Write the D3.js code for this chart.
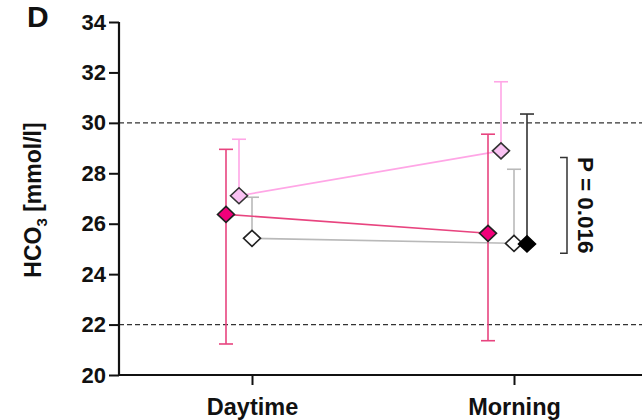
<!DOCTYPE html>
<html><head><meta charset="utf-8">
<script src="https://cdn.jsdelivr.net/npm/d3@7"></script>
<style>html,body{margin:0;padding:0;background:#fff}svg{display:block}text{font-family:"Liberation Sans",Arial,sans-serif;font-weight:bold;fill:#111}</style>
</head><body>
<script>
const categories = ["Daytime", "Morning"];
const seriesNames = ["darkPink", "lightPink", "open", "black"];
const yTicks = [20, 22, 24, 26, 28, 30, 32, 34];
const refLines = [22, 30];
const darkPinkMean = [26.37, 25.62];
const darkPinkUpper = [28.95, 29.55];
const darkPinkLower = [21.23, 21.36];
const lightPinkMean = [27.11, 28.89];
const lightPinkUpper = [29.35, 31.63];
const openMean = [25.42, 25.22];
const openUpper = [27.05, 28.16];
const blackMean = [null, 25.2];
const blackUpper = [null, 30.35];
const pBracket = [24.83, 28.63];
const pLabel = "P = 0.016";

(function () {
const W = 642, H = 420;
const svg = d3.select("body").append("svg").attr("width", W).attr("height", H);
const mLeft = 119, mRight = 642, mTop = 22, mBottom = 375;
const y = d3.scaleLinear().domain([20, 34]).range([mBottom, mTop]);
const x = d3.scalePoint().domain(categories).range([mLeft + 2, mRight + 3]).padding(0.5);
const off = d3.scalePoint().domain(seriesNames).range([-26, 13]);

const styles = {
  darkPink: {line: "#e8447f", fill: "#f2007a", stroke: "#222"},
  lightPink: {line: "#ffa6e6", fill: "#f9c2f2", stroke: "#333"},
  open: {line: "#b9b9b9", fill: "#ffffff", stroke: "#222"},
  black: {line: "#333333", fill: "#000000", stroke: "#000"}
};
const series = [
  {name: "open", mean: openMean, hi: openUpper, lo: null},
  {name: "lightPink", mean: lightPinkMean, hi: lightPinkUpper, lo: null},
  {name: "darkPink", mean: darkPinkMean, hi: darkPinkUpper, lo: darkPinkLower},
  {name: "black", mean: blackMean, hi: blackUpper, lo: null}
];

svg.selectAll(".ref").data(refLines).enter().append("line")
  .attr("x1", mLeft).attr("x2", mRight).attr("y1", d => y(d)).attr("y2", d => y(d))
  .attr("stroke", "#333").attr("stroke-width", 1.3).attr("stroke-dasharray", "5,3");

const px = (s, i) => x(categories[i]) + off(s.name);
const cap = 7;

series.forEach(s => {
  const st = styles[s.name];
  const g = svg.append("g");
  const pts = s.mean.map((m, i) => ({i, m})).filter(d => d.m != null);
  if (pts.length > 1) {
    g.append("path").attr("d", d3.line().x(d => px(s, d.i)).y(d => y(d.m))(pts))
      .attr("fill", "none").attr("stroke", st.line).attr("stroke-width", 1.6);
  }
  pts.forEach(d => {
    const cx = px(s, d.i);
    const hi = s.hi[d.i];
    const lo = s.lo ? s.lo[d.i] : d.m;
    g.append("line").attr("x1", cx).attr("x2", cx).attr("y1", y(hi)).attr("y2", y(lo))
      .attr("stroke", st.line).attr("stroke-width", 1.6);
    g.append("line").attr("x1", cx - cap).attr("x2", cx + cap).attr("y1", y(hi)).attr("y2", y(hi))
      .attr("stroke", st.line).attr("stroke-width", 1.6);
    if (s.lo) {
      g.append("line").attr("x1", cx - cap).attr("x2", cx + cap).attr("y1", y(lo)).attr("y2", y(lo))
        .attr("stroke", st.line).attr("stroke-width", 1.6);
    }
  });
  g.selectAll("path.m").data(pts).enter().append("path").attr("class", "m")
    .attr("d", d => {
      const cx = px(s, d.i), cy = y(d.m), hw = 8.5, hh = 8;
      return `M${cx},${cy - hh}L${cx + hw},${cy}L${cx},${cy + hh}L${cx - hw},${cy}Z`;
    })
    .attr("fill", st.fill).attr("stroke", st.stroke).attr("stroke-width", 1.6);
});

const yAxis = svg.append("g").attr("transform", `translate(${mLeft},0)`)
  .call(d3.axisLeft(y).tickValues(yTicks).tickSize(10).tickPadding(3).tickFormat(d3.format("d")));
yAxis.select(".domain").attr("d", `M0,${mTop}V${mBottom}`).attr("stroke", "#111").attr("stroke-width", 2.2);
yAxis.selectAll(".tick line").attr("stroke", "#111").attr("stroke-width", 2);
yAxis.selectAll(".tick text").attr("font-size", 22).attr("font-family", "Liberation Sans, Arial, sans-serif").attr("font-weight", "bold").attr("fill", "#111");

const xAxis = svg.append("g").attr("transform", `translate(0,${mBottom})`)
  .call(d3.axisBottom(x).tickSize(10).tickPadding(13));
xAxis.select(".domain").attr("d", `M${mLeft},0H${mRight}`).attr("stroke", "#111").attr("stroke-width", 2.2);
xAxis.selectAll(".tick line").attr("stroke", "#111").attr("stroke-width", 2);
xAxis.selectAll(".tick text").attr("font-size", 23.5).attr("font-family", "Liberation Sans, Arial, sans-serif").attr("font-weight", "bold").attr("fill", "#111");

const yl = svg.append("text").attr("transform", `translate(41,200) rotate(-90)`).attr("text-anchor", "middle")
  .attr("font-size", 23);
yl.append("tspan").text("HCO");
yl.append("tspan").text("3").attr("font-size", 15).attr("dy", 6);
yl.append("tspan").text(" [mmol/l]").attr("dy", -6);

svg.append("text").attr("x", 27).attr("y", 27).attr("font-size", 30).text("D");

const bx = 560, bw = 7;
svg.append("path")
  .attr("d", `M${bx},${y(pBracket[1])}H${bx + bw}V${y(pBracket[0])}H${bx}`)
  .attr("fill", "none").attr("stroke", "#333").attr("stroke-width", 1.5);
svg.append("text").attr("transform", `translate(578,${(y(pBracket[0]) + y(pBracket[1])) / 2}) rotate(90)`)
  .attr("text-anchor", "middle").attr("font-size", 22.5).text(pLabel);
})();
</script>
</body></html>
